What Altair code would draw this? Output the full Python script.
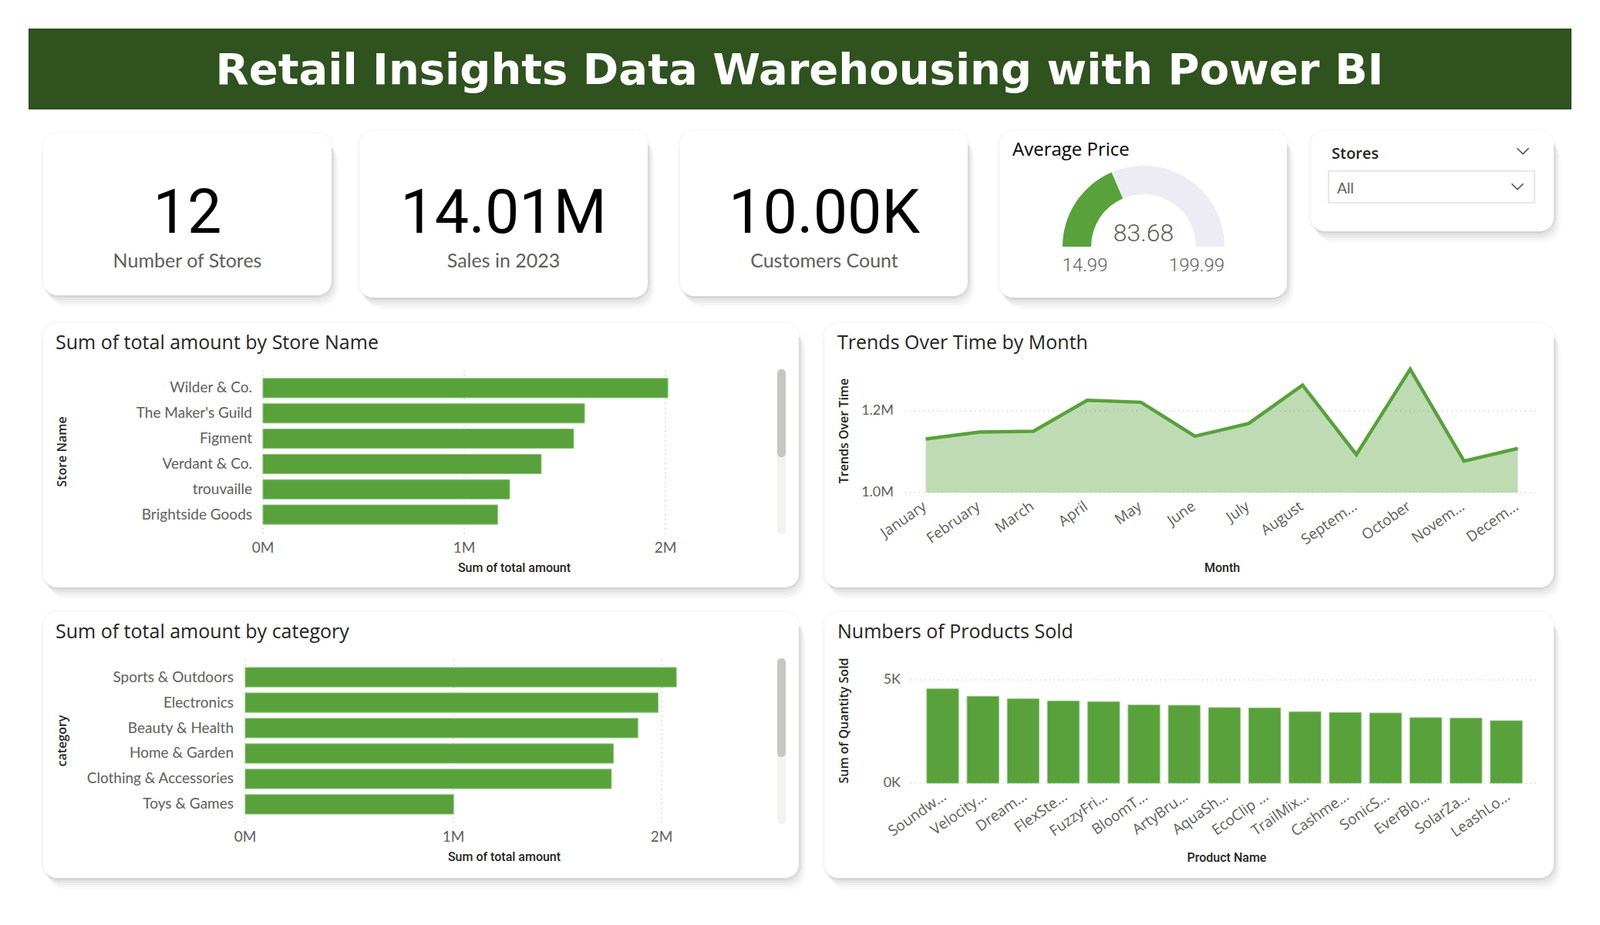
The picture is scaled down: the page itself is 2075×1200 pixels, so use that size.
import math
import altair as alt
import pandas as pd

# ------------------------------------------------------------------ data
title_text = "Retail Insights Data Warehousing with Power BI"

kpi_values = ["12", "14.01M", "10.00K"]
kpi_labels = ["Number of Stores", "Sales in 2023", "Customers Count"]

gauge_title = "Average Price"
gauge_min = 14.99
gauge_max = 199.99
avg_price = 83.68

slicer_title = "Stores"
slicer_value = "All"

store_title = "Sum of total amount by Store Name"
stores = ["Wilder & Co.", "The Maker's Guild", "Figment", "Verdant & Co.",
          "trouvaille", "Brightside Goods"]
store_amount = [2012000, 1598000, 1544000, 1383000, 1226000, 1166000]

category_title = "Sum of total amount by category"
categories = ["Sports & Outdoors", "Electronics", "Beauty & Health",
              "Home & Garden", "Clothing & Accessories", "Toys & Games"]
category_amount = [2071000, 1983000, 1886000, 1769000, 1759000, 1001000]

amount_ticks = [0, 1000000, 2000000]
amount_tick_labels = ["0M", "1M", "2M"]

trend_title = "Trends Over Time by Month"
months = ["January", "February", "March", "April", "May", "June", "July",
          "August", "September", "October", "November", "December"]
month_labels = ["January", "February", "March", "April", "May", "June", "July",
                "August", "Septem...", "October", "Novem...", "Decem..."]
month_sales = [1131000, 1148000, 1150000, 1226000, 1221000, 1138000,
               1169000, 1263000, 1093000, 1302000, 1077000, 1108000]
trend_ticks = [1000000, 1200000]
trend_tick_labels = ["1.0M", "1.2M"]

product_title = "Numbers of Products Sold"
products = ["Soundw...", "Velocity...", "Dream...", "FlexSte...", "FuzzyFri...",
            "BloomT...", "ArtyBru...", "AquaSh...", "EcoClip ...", "TrailMix...",
            "Cashme...", "SonicS...", "EverBlo...", "SolarZa...", "LeashLo..."]
product_qty = [4565, 4204, 4080, 3980, 3943, 3781, 3769, 3657, 3644, 3458,
               3420, 3396, 3172, 3147, 3022]
qty_ticks = [0, 5000]
qty_tick_labels = ["0K", "5K"]

# ------------------------------------------------------------------ style
GREEN = "#58A13B"
DARK = "#2F521F"
GREY = "#605E5C"
INK = "#252423"
GRID = "#B3B0AD"
LABEL_FONT = "Lato"
ROT_FONT = "Open Sans"
TITLE_FONT = "Open Sans"
NUM_FONT = "Roboto"

ONE = alt.Data(values=[{"k": 1}])


def rect(x0, y0, x1, y1, **kw):
    return alt.Chart(ONE).mark_rect(**kw).encode(
        x=alt.value(x0), x2=alt.value(x1), y=alt.value(y0), y2=alt.value(y1))


def label(text, x, y, **kw):
    kw.setdefault("baseline", "alphabetic")
    return alt.Chart(ONE).mark_text(text=text, **kw).encode(
        x=alt.value(x), y=alt.value(y))


def card(x0, y0, x1, y1, r=18):
    out = []
    out.append(rect(x0 - 3, y0 - 2, x1 + 3, y1 + 3, fill="#000000", opacity=0.025,
                    cornerRadius=r + 3))
    for dx, dy, op in [(1, 3, 0.03), (3, 6, 0.03), (5, 9, 0.03), (7, 12, 0.025), (9, 15, 0.02)]:
        out.append(rect(x0 + dx - 2, y0 + dy, x1 + dx, y1 + dy,
                        fill="#000000", opacity=op, cornerRadius=r + 4))
    out.append(rect(x0, y0, x1, y1, fill="white", cornerRadius=r))
    return out


def chevron(x, y, size=230):
    return alt.Chart(ONE).mark_point(
        shape="M -1 -0.5 L 0 0.5 L 1 -0.5", filled=False, size=size,
        strokeWidth=1.4, color="#444444", opacity=1).encode(
        x=alt.value(x), y=alt.value(y))


layers = []

# ------------------------------------------------------------------ header
layers.append(rect(37, 37, 2038, 142, fill=DARK))
layers.append(label(title_text, 1037, 109, font="DejaVu Sans", fontWeight="bold",
                    fontSize=56, color="white", align="center"))

# ------------------------------------------------------------------ cards
for c in [(56, 173, 430, 383), (466, 169, 840, 386), (882, 169, 1255, 384),
          (1296, 169, 1669, 386), (1700, 169, 2015, 300),
          (56, 419, 1036, 762), (1069, 419, 2015, 762),
          (56, 794, 1036, 1139), (1069, 794, 2015, 1139)]:
    layers += card(*c)

# KPI texts
for cx, val, lab in zip([243, 653, 1069], kpi_values, kpi_labels):
    layers.append(label(val, cx, 302, font=NUM_FONT, fontSize=79, color="#000000",
                        align="center"))
    layers.append(label(lab, cx, 347, font=LABEL_FONT, fontSize=25, color=GREY,
                        align="center"))

# ------------------------------------------------------------------ gauge
layers.append(label(gauge_title, 1313, 202, font=TITLE_FONT, fontSize=24,
                    fontWeight=500, color="#000000", align="left"))
gauge_df = pd.DataFrame({"start": [gauge_min, avg_price],
                         "end": [avg_price, gauge_max],
                         "part": ["value", "rest"]})
layers.append(alt.Chart(gauge_df).mark_arc(radius=105, radius2=68).encode(
    theta=alt.Theta("start:Q", stack=None,
                    scale=alt.Scale(domain=[gauge_min, gauge_max],
                                    range=[-math.pi / 2, math.pi / 2],
                                    nice=False, zero=False)),
    theta2="end:Q",
    color=alt.Color("part:N", legend=None,
                    scale=alt.Scale(domain=["value", "rest"], range=[GREEN, "#EDEBF4"])),
    x=alt.value(1483), y=alt.value(320)))
layers.append(label(f"{avg_price:.2f}", 1483, 313, font=NUM_FONT, fontWeight=300,
                    fontSize=32, color=GREY, align="center"))
layers.append(label(f"{gauge_min:.2f}", 1407, 352, font=NUM_FONT, fontWeight=300,
                    fontSize=24, color=GREY, align="center"))
layers.append(label(f"{gauge_max:.2f}", 1552, 352, font=NUM_FONT, fontWeight=300,
                    fontSize=24, color=GREY, align="center"))

# ------------------------------------------------------------------ slicer
layers.append(label(slicer_title, 1727, 206, font=TITLE_FONT, fontSize=20,
                    fontWeight=600, color=INK, align="left"))
layers.append(chevron(1975, 196))
layers.append(rect(1723, 222, 1990, 263, fill="white", stroke="#E1DFDD", strokeWidth=1.5))
layers.append(label(slicer_value, 1734, 251, font=LABEL_FONT, fontSize=19,
                    color=GREY, align="left"))
layers.append(chevron(1968, 242))


# ------------------------------------------------------------------ horizontal bar panels
def hbar_panel(title, y_title, cats, vals, top, x0, x1, y0, y1, lab_right,
               tick_y, xtitle_x, xtitle_y, ytitle_y, thumb_end):
    out = []
    out.append(label(title, 72, top, font=TITLE_FONT, fontSize=25, color=INK,
                     align="left"))
    xs = alt.Scale(domain=[0, 2000000], range=[x0, x1], nice=False, zero=True)
    ys = alt.Scale(type="band", domain=cats, range=[y0, y1],
                   paddingInner=0.235, paddingOuter=0.3)
    tick_df = pd.DataFrame({"v": amount_ticks, "label": amount_tick_labels})
    out.append(alt.Chart(tick_df).mark_rule(strokeDash=[1, 5], color=GRID,
                                            strokeWidth=1.2).encode(
        x=alt.X("v:Q", scale=xs, axis=None), y=alt.value(y0), y2=alt.value(y1 + 3)))
    df = pd.DataFrame({"cat": cats, "val": vals})
    out.append(alt.Chart(df).mark_bar(color=GREEN, stroke="#8FC47C",
                                      strokeWidth=1).encode(
        y=alt.Y("cat:N", scale=ys, axis=None),
        x=alt.X("val:Q", scale=xs, axis=None, stack=None)))
    out.append(alt.Chart(df).mark_text(align="right", baseline="middle",
                                       font=LABEL_FONT, fontSize=19, color=GREY).encode(
        y=alt.Y("cat:N", scale=ys, axis=None), x=alt.value(lab_right), text="cat:N"))
    out.append(alt.Chart(tick_df).mark_text(align="center", baseline="alphabetic",
                                            font=LABEL_FONT, fontSize=19,
                                            color=GREY).encode(
        x=alt.X("v:Q", scale=xs, axis=None), y=alt.value(tick_y), text="label:N"))
    out.append(label("Sum of total amount", xtitle_x, xtitle_y, font=NUM_FONT,
                     fontWeight=500, fontSize=16, color=INK, align="center"))
    out.append(label(y_title, 81, ytitle_y, font=TITLE_FONT, fontWeight=600,
                     fontSize=16, color=INK, align="center", angle=270,
                     baseline="middle"))
    # scrollbar
    out.append(rect(1008, y0 - 2, 1019, y1 + 3, fill="#F3F2F1", cornerRadius=5))
    out.append(rect(1008, y0 - 2, 1019, thumb_end, fill="#C8C6C4", cornerRadius=5))
    return out


layers += hbar_panel(store_title, "Store Name", stores, store_amount, 453,
                     341, 863, 481, 690, 327, 717, 667, 742, 586, 593)
layers += hbar_panel(category_title, "category", categories, category_amount, 828,
                     318, 858, 856, 1066, 303, 1092, 654, 1117, 961, 982)

# ------------------------------------------------------------------ trend panel
layers.append(label(trend_title, 1086, 453, font=TITLE_FONT, fontSize=25, color=INK,
                    align="left"))
tx = alt.Scale(type="point", domain=months, range=[1174, 1995], padding=0.38)
ty = alt.Scale(domain=[1000000, 1200000], range=[639, 533], nice=False, zero=False)
trend_df = pd.DataFrame({"month": months, "label": month_labels, "sales": month_sales})
ttick_df = pd.DataFrame({"v": trend_ticks, "label": trend_tick_labels})
layers.append(alt.Chart(ttick_df).mark_rule(strokeDash=[1, 5], color=GRID,
                                            strokeWidth=1.2).encode(
    y=alt.Y("v:Q", scale=ty, axis=None), x=alt.value(1174), x2=alt.value(1995)))
layers.append(alt.Chart(trend_df).mark_area(color=GREEN, opacity=0.38).encode(
    x=alt.X("month:N", scale=tx, axis=None),
    y=alt.Y("sales:Q", scale=ty, axis=None),
    y2=alt.datum(1000000)))
layers.append(alt.Chart(trend_df).mark_line(color=GREEN, strokeWidth=4.5).encode(
    x=alt.X("month:N", scale=tx, axis=None),
    y=alt.Y("sales:Q", scale=ty, axis=None)))
layers.append(alt.Chart(ttick_df).mark_text(align="right", baseline="middle",
                                            font=LABEL_FONT, fontSize=18,
                                            color=GREY).encode(
    y=alt.Y("v:Q", scale=ty, axis=None), x=alt.value(1159), text="label:N"))
layers.append(alt.Chart(trend_df).mark_text(align="right", baseline="top", angle=325,
                                            dx=-8, font=ROT_FONT, fontSize=19,
                                            color=GREY).encode(
    x=alt.X("month:N", scale=tx, axis=None), y=alt.value(643), text="label:N"))
layers.append(label("Month", 1585, 742, font=NUM_FONT, fontWeight=500, fontSize=16,
                    color=INK, align="center"))
layers.append(label("Trends Over Time", 1095, 559, font=TITLE_FONT, fontWeight=600,
                    fontSize=16, color=INK, align="center", angle=270,
                    baseline="middle"))

# ------------------------------------------------------------------ product panel
layers.append(label(product_title, 1086, 828, font=TITLE_FONT, fontSize=25, color=INK,
                    align="left"))
px = alt.Scale(type="band", domain=products, range=[1181, 1995],
               paddingInner=0.21, paddingOuter=0.4)
py = alt.Scale(domain=[0, 5000], range=[1016, 882], nice=False, zero=True)
prod_df = pd.DataFrame({"product": products, "qty": product_qty})
qtick_df = pd.DataFrame({"v": qty_ticks, "label": qty_tick_labels})
layers.append(alt.Chart(qtick_df).mark_rule(strokeDash=[1, 5], color=GRID,
                                            strokeWidth=1.2).encode(
    y=alt.Y("v:Q", scale=py, axis=None), x=alt.value(1181), x2=alt.value(1995)))
layers.append(alt.Chart(prod_df).mark_bar(color=GREEN, stroke="#8FC47C",
                                          strokeWidth=1).encode(
    x=alt.X("product:N", scale=px, axis=None),
    y=alt.Y("qty:Q", scale=py, axis=None, stack=None)))
layers.append(alt.Chart(qtick_df).mark_text(align="right", baseline="middle",
                                            font=LABEL_FONT, fontSize=18,
                                            color=GREY).encode(
    y=alt.Y("v:Q", scale=py, axis=None), x=alt.value(1168), text="label:N"))
layers.append(alt.Chart(prod_df).mark_text(align="right", baseline="top", angle=325,
                                           dx=-3, font=ROT_FONT, fontSize=19,
                                           color=GREY).encode(
    x=alt.X("product:N", scale=px, axis=None), y=alt.value(1022), text="product:N"))
layers.append(label("Product Name", 1591, 1118, font=NUM_FONT, fontWeight=500,
                    fontSize=16, color=INK, align="center"))
layers.append(label("Sum of Quantity Sold", 1095, 935, font=TITLE_FONT, fontWeight=600,
                    fontSize=16, color=INK, align="center", angle=270,
                    baseline="middle"))

# ------------------------------------------------------------------ assemble
chart = alt.layer(*layers).resolve_scale(
    x="independent", y="independent", color="independent", theta="independent"
).properties(
    width=2075, height=1200, padding=0,
    autosize=alt.AutoSizeParams(type="none"), background="white"
).configure_view(stroke=None)

chart.save("out.html", embed_options={"renderer": "svg", "actions": False})
